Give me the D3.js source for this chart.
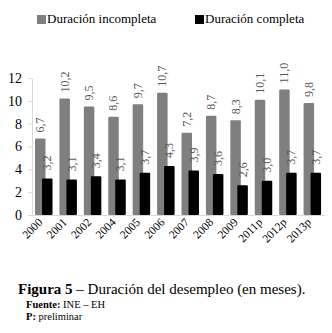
<!DOCTYPE html>
<html>
<head>
<meta charset="utf-8">
<script src="https://cdn.jsdelivr.net/npm/d3@7"></script>
<style>
  body { margin: 0; background: #fff; }
  svg { display: block; }
  svg text { font-family: "Liberation Serif", "Times New Roman", serif !important; }
</style>
</head>
<body>
<div id="chart"></div>
<script>
// data
const years = ["2000", "2001", "2002", "2004", "2005", "2006", "2007", "2008", "2009", "2011p", "2012p", "2013p"];
const incompleta = [6.7, 10.2, 9.5, 8.6, 9.7, 10.7, 7.2, 8.7, 8.3, 10.1, 11.0, 9.8];
const completa = [3.2, 3.1, 3.4, 3.1, 3.7, 4.3, 3.9, 3.6, 2.6, 3.0, 3.7, 3.7];
const yTicks = [0, 2, 4, 6, 8, 10, 12];
const seriesNames = ["Duración incompleta", "Duración completa"];

const width = 332, height = 333;
const margin = { left: 32, right: 7, top: 78, bottom: 118 };
const grayCol = "#7f7f7f", blackCol = "#000";
const serif = "'Liberation Serif', 'Times New Roman', serif";

const svg = d3.select("#chart").append("svg")
  .attr("width", width)
  .attr("height", height)
  .attr("font-family", serif);

const x = d3.scaleBand()
  .domain(years)
  .range([margin.left, width - margin.right]);

const y = d3.scaleLinear()
  .domain([0, 12])
  .range([height - margin.bottom, margin.top]);

const barW = x.bandwidth() * 0.43;
const fmt = (v) => d3.format(".1f")(v).replace(".", ",");

// y axis
const yAxis = svg.append("g")
  .attr("transform", `translate(${margin.left},0)`)
  .call(d3.axisLeft(y).tickValues(yTicks).tickSize(4).tickPadding(6).tickSizeOuter(0))
  .attr("font-family", serif);
yAxis.select(".domain").attr("stroke", "#d9d9d9");
yAxis.selectAll(".tick line").attr("stroke", "#d9d9d9");
yAxis.selectAll("text").attr("font-size", 14).attr("fill", "#000");

// x axis
const xAxis = svg.append("g")
  .attr("transform", `translate(0,${y(0)})`)
  .call(d3.axisBottom(x).tickSize(0).tickPadding(0))
  .attr("font-family", serif);
xAxis.select(".domain").attr("stroke", "#d9d9d9");
xAxis.selectAll("text")
  .attr("font-size", 11.5)
  .attr("fill", "#000")
  .attr("text-anchor", "end")
  .attr("dy", null)
  .attr("transform", "translate(-1,8) rotate(-45)");

// bars
const groups = svg.selectAll("g.year")
  .data(years.map((yr, i) => ({ yr, inc: incompleta[i], com: completa[i] })))
  .join("g")
  .attr("class", "year")
  .attr("transform", (d) => `translate(${x(d.yr)},0)`);

groups.append("rect")
  .attr("x", 3)
  .attr("width", barW)
  .attr("y", (d) => y(d.inc))
  .attr("height", (d) => y(0) - y(d.inc))
  .attr("rx", 1)
  .attr("fill", grayCol);

groups.append("rect")
  .attr("x", 10)
  .attr("width", barW)
  .attr("y", (d) => y(d.com))
  .attr("height", (d) => y(0) - y(d.com))
  .attr("rx", 1)
  .attr("fill", blackCol);

// value labels, rotated
groups.append("text")
  .attr("transform", (d) => `translate(${3 + barW / 2 + 4},${y(d.inc) - 6}) rotate(-90)`)
  .attr("font-size", 12)
  .attr("fill", "#595959")
  .attr("text-anchor", "start")
  .text((d) => fmt(d.inc));

groups.append("text")
  .attr("transform", (d) => `translate(${10 + barW / 2 + 4},${y(d.com) - 8}) rotate(-90)`)
  .attr("font-size", 12)
  .attr("fill", "#595959")
  .attr("text-anchor", "start")
  .text((d) => fmt(d.com));

// legend
const legend = svg.append("g");
const legX = [37, 195];
seriesNames.forEach((name, i) => {
  legend.append("rect")
    .attr("x", legX[i])
    .attr("y", 15)
    .attr("width", 9)
    .attr("height", 9)
    .attr("fill", i === 0 ? grayCol : blackCol);
  legend.append("text")
    .attr("x", legX[i] + 10)
    .attr("y", 23)
    .attr("font-size", 13)
    .attr("fill", "#000")
    .text(name);
});

// caption
const cap = svg.append("text")
  .attr("x", 18)
  .attr("y", 294)
  .attr("font-size", 15)
  .attr("fill", "#000");
cap.append("tspan").attr("font-weight", "bold").text("Figura 5");
cap.append("tspan").text(" – Duración del desempleo (en meses).");

const src = svg.append("text").attr("x", 26).attr("y", 308).attr("font-size", 10.5);
src.append("tspan").attr("font-weight", "bold").text("Fuente:");
src.append("tspan").text(" INE – EH");

const pre = svg.append("text").attr("x", 26).attr("y", 320).attr("font-size", 10.5);
pre.append("tspan").attr("font-weight", "bold").text("P:");
pre.append("tspan").text(" preliminar");
</script>
</body>
</html>
